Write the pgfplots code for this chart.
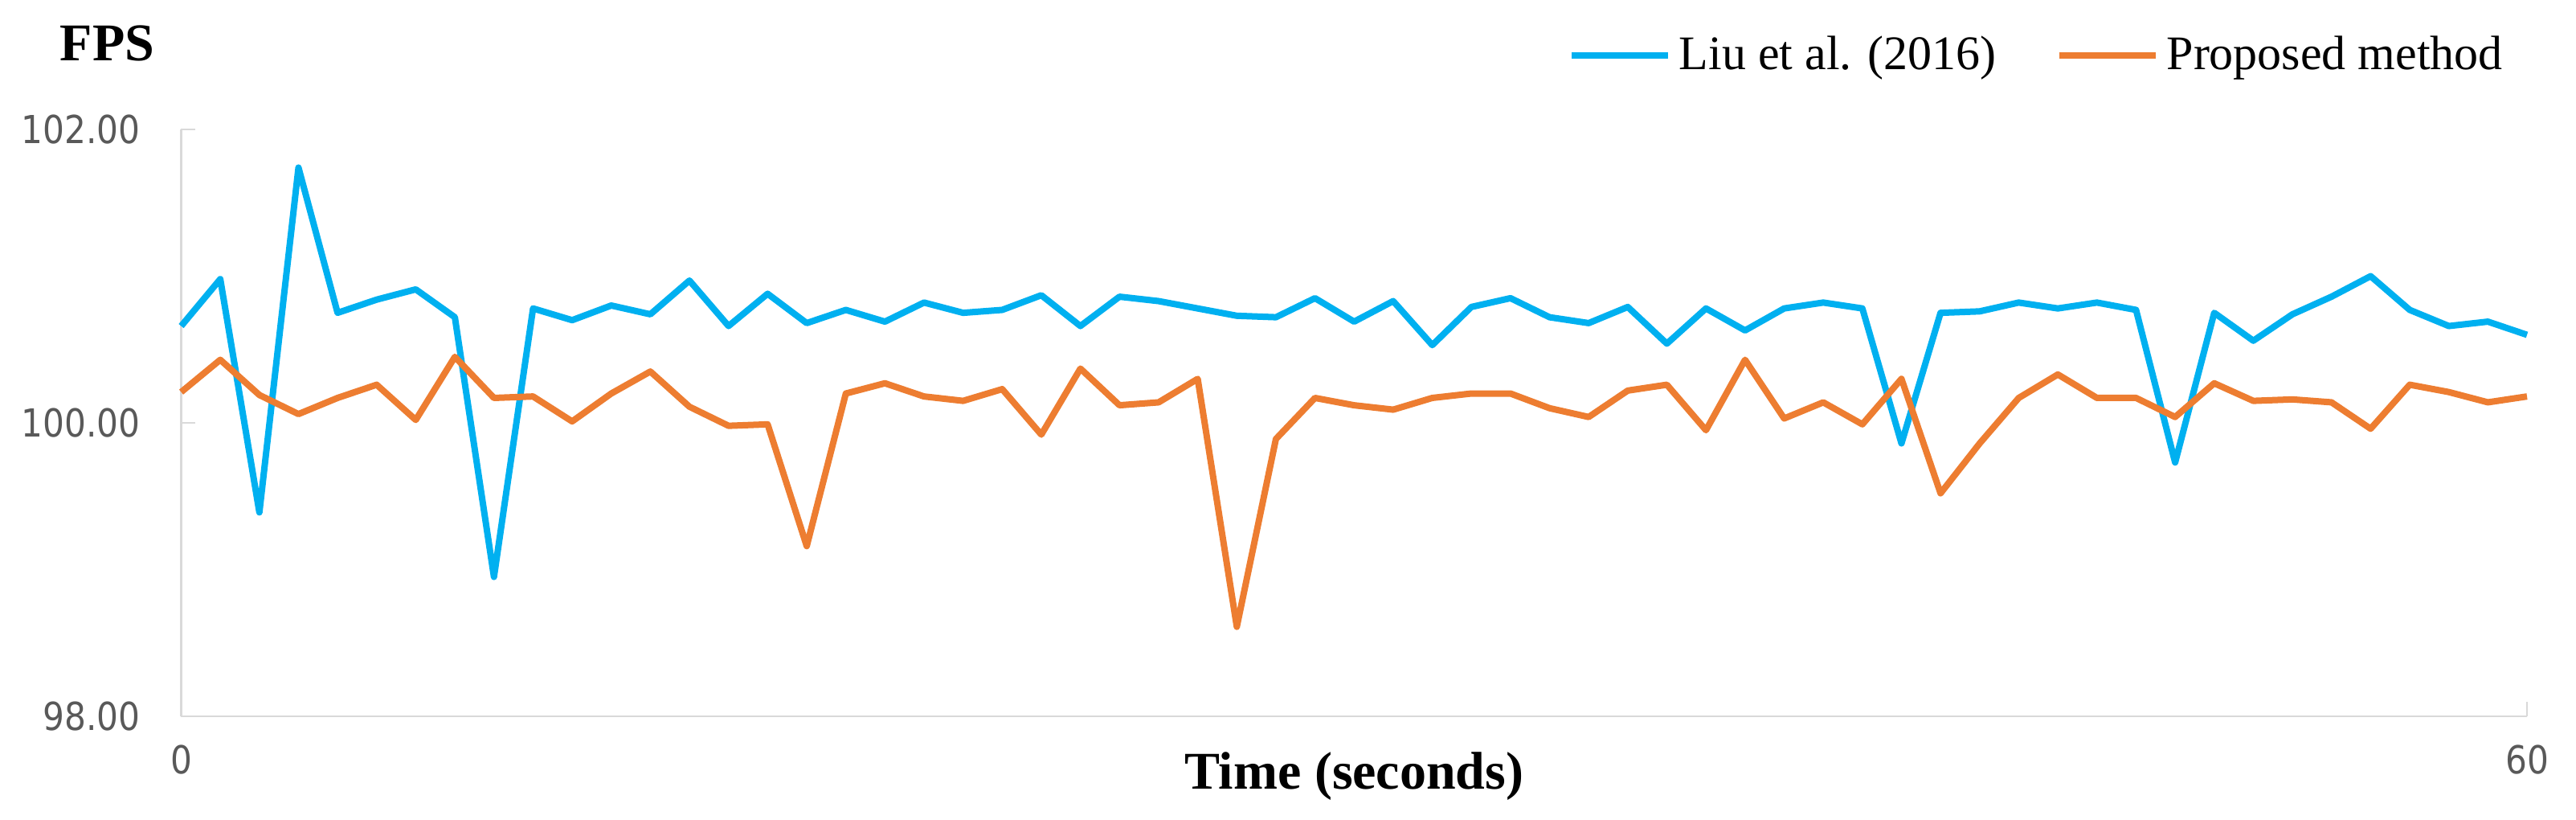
\documentclass[border=0pt]{standalone}
\usepackage{fontspec}
\setmainfont{Liberation Serif}
\newfontfamily\tickfont{DejaVu Sans}[FakeStretch=0.88]
\usepackage{pgfplots}
\pgfplotsset{compat=1.18}
\definecolor{liublue}{HTML}{00B0F0}
\definecolor{proporange}{HTML}{ED7D31}
\definecolor{axisgray}{HTML}{D9D9D9}
\definecolor{tickgray}{HTML}{595959}

\pgfplotstableread{
t v
0 100.66
1 100.98
2 99.39
3 101.74
4 100.75
5 100.84
6 100.91
7 100.72
8 98.95
9 100.78
10 100.70
11 100.80
12 100.74
13 100.97
14 100.66
15 100.88
16 100.68
17 100.77
18 100.69
19 100.82
20 100.75
21 100.77
22 100.87
23 100.66
24 100.86
25 100.83
26 100.78
27 100.73
28 100.72
29 100.85
30 100.69
31 100.83
32 100.53
33 100.79
34 100.85
35 100.72
36 100.68
37 100.79
38 100.54
39 100.78
40 100.63
41 100.78
42 100.82
43 100.78
44 99.86
45 100.75
46 100.76
47 100.82
48 100.78
49 100.82
50 100.77
51 99.73
52 100.75
53 100.56
54 100.74
55 100.86
56 101.00
57 100.77
58 100.66
59 100.69
60 100.60
}\liu

\pgfplotstableread{
t v
0 100.21
1 100.43
2 100.19
3 100.06
4 100.17
5 100.26
6 100.02
7 100.45
8 100.17
9 100.18
10 100.01
11 100.20
12 100.35
13 100.11
14 99.98
15 99.99
16 99.16
17 100.20
18 100.27
19 100.18
20 100.15
21 100.23
22 99.92
23 100.37
24 100.12
25 100.14
26 100.30
27 98.61
28 99.89
29 100.17
30 100.12
31 100.09
32 100.17
33 100.20
34 100.20
35 100.10
36 100.04
37 100.22
38 100.26
39 99.95
40 100.43
41 100.03
42 100.14
43 99.99
44 100.30
45 99.52
46 99.86
47 100.17
48 100.33
49 100.17
50 100.17
51 100.04
52 100.27
53 100.15
54 100.16
55 100.14
56 99.96
57 100.26
58 100.21
59 100.14
60 100.18
}\proposed

\begin{document}
\begin{tikzpicture}
\useasboundingbox (0,0) rectangle (641.2pt,203.8pt);
\begin{axis}[
  at={(45.1pt,25.6pt)}, anchor=south west,
  scale only axis, width=583.9pt, height=146pt,
  xmin=0, xmax=60, ymin=98, ymax=102,
  axis x line=bottom, axis y line=left,
  axis line style={-, draw=axisgray, line width=0.5pt},
  xtick={0,60}, ytick={98,100,102},
  tick align=inside, major tick length=3.6pt,
  major tick style={draw=axisgray, line width=0.5pt},
  /pgf/number format/assume math mode=true,
  tick label style={font=\tickfont\fontsize{9.6}{11}\selectfont, text=tickgray, inner sep=0pt},
  yticklabel style={/pgf/number format/.cd, fixed, fixed zerofill, precision=2, /tikz/.cd, anchor=east, xshift=-10pt},
  xticklabel style={anchor=north, yshift=-7pt},
  xlabel={Time (seconds)},
  xlabel style={at={(axis description cs:0.5,0)}, anchor=base, yshift=-18pt, font=\bfseries\fontsize{13.2}{15}\selectfont, inner sep=0pt},
  ylabel={FPS},
  ylabel style={rotate=-90, at={(axis description cs:-0.0519,1.1178)}, anchor=base west, font=\bfseries\fontsize{13.2}{15}\selectfont, inner sep=0pt},
  legend columns=2,
  legend cell align=left,
  legend image code/.code={\draw[#1, line width=1.6pt] (0pt,0pt) -- (24pt,0pt);},
  legend style={at={(axis description cs:0.9897,1.126)}, anchor=east, draw=none, fill=none,
    inner sep=0pt, outer sep=0pt, font=\fontsize{12}{14}\selectfont,
    nodes={inner sep=0pt},
    /tikz/every odd column/.append style={column sep=2pt},
    /tikz/every even column/.append style={column sep=14.8pt}},
  every axis plot/.append style={line width=1.6pt, line join=round},
  clip=false,
]
\addplot[liublue, no markers] table[x=t, y=v] {\liu};
\addlegendentry{Liu et al. (2016)}
\addplot[proporange, no markers] table[x=t, y=v] {\proposed};
\addlegendentry{Proposed method}
\end{axis}
\end{tikzpicture}
\end{document}
